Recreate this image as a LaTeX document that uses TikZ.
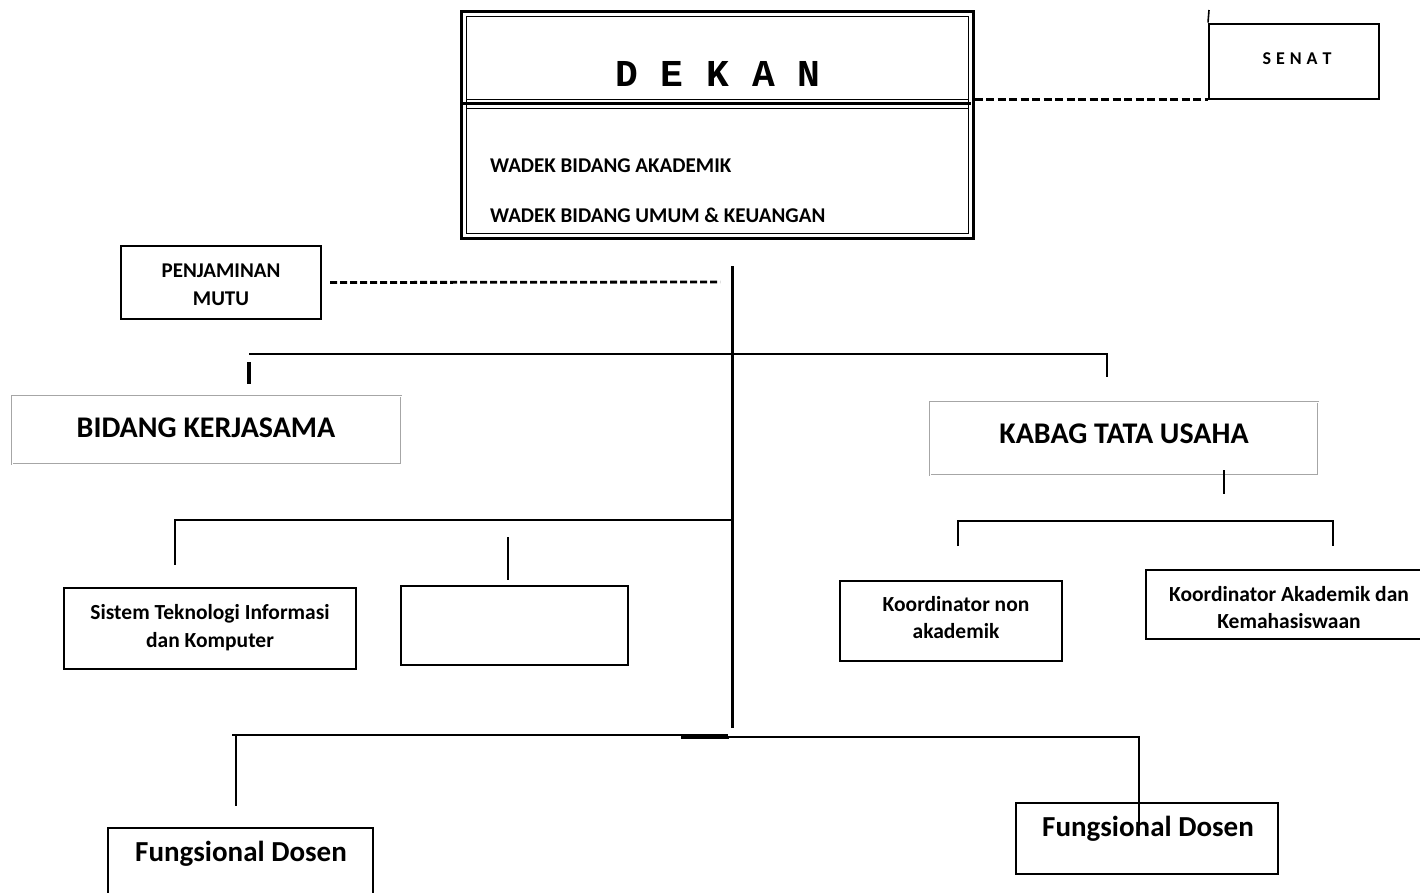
\documentclass[tikz,border=0pt]{standalone}
\usepackage{fontspec}
\setmainfont{Carlito}
\newfontfamily\monofont{Liberation Mono}
\begin{document}
\begin{tikzpicture}[x=1pt,y=-1pt,
  box/.style={draw=black,line width=2pt,inner sep=0pt,align=center,font=\bfseries},
  gbox/.style={draw=gray!70,line width=2.6pt,line join=miter,outer sep=0pt,inner sep=0pt,align=center,font=\bfseries},
  conn/.style={line width=1.6pt},
  thinconn/.style={line width=1.1pt},
  dashline/.style={line width=2.5pt,dash pattern=on 8pt off 3.5pt}]
\useasboundingbox (0,0) rectangle (1420,892);
\begin{scope}
\clip (0,0) rectangle (1420,892);
% DEKAN box
\node[draw=black,line width=3pt,minimum width=512pt,minimum height=227pt,inner sep=0pt] (dekan) at (717,124.5) {};
\draw[line width=1pt] (466,16) rectangle (968,233);
\draw[line width=1pt] (466,99) -- (968,99);
\draw[line width=3.5pt] (463,103.5) -- (971,103.5);
\draw[line width=1pt] (466,108) -- (968,108);
\node[font=\monofont\bfseries\fontsize{38}{38}\selectfont,inner sep=0pt] (dekantxt) at (718,74) {D E K A N};
\node[font=\bfseries\fontsize{21}{22}\selectfont,anchor=west,inner sep=0pt] (wa) at (490,166) {WADEK BIDANG AKADEMIK};
\node[font=\bfseries\fontsize{21}{22}\selectfont,anchor=west,inner sep=0pt] (wu) at (490,215) {WADEK BIDANG UMUM \& KEUANGAN};
% SENAT
\node[box,minimum width=170pt,minimum height=75pt] (senat) at (1294,61) {};
\node[font=\bfseries\fontsize{18}{18}\selectfont,inner sep=0pt] (senattxt) at (1297,59) {S\hspace{5pt}E\hspace{5pt}N\hspace{5pt}A\hspace{5pt}T};
\coordinate (senattop) at (1209,10);
\draw[conn] (senattop) -- (senat.north west);
\draw[dashline] (dekan.east |- senat.south west) -- (senat.south west);
% Penjaminan
\node[box,minimum width=200pt,minimum height=73pt] (pm) at (221,282.5) {};
\node[font=\bfseries\fontsize{21}{28}\selectfont,align=center,inner sep=0pt] (pmtxt) at (221,285) {PENJAMINAN\\MUTU};
\coordinate (vtop) at (732,266);
\coordinate (vbot) at (732,728);
\coordinate (dashend) at (720,282);
\draw[dashline,line width=2.8pt,dash pattern=on 7pt off 3pt] ([xshift=8pt]pm.east) -- (dashend);
\draw[line width=3pt] (vtop) -- (vbot);
% upper branch
\coordinate (h1l) at (249,354);
\coordinate (h1r) at (1107,354);
\draw[conn] (h1l) -- (h1r) -- (1107,377);
\draw[line width=3.5pt] (249,362) -- (249,384);
\node[gbox,minimum width=389pt,minimum height=68pt] (bk) at (206.5,430) {};
\draw[white,line width=0.7pt] (bk.south west) rectangle (bk.north east);
\node[font=\bfseries\fontsize{30}{30}\selectfont,inner sep=0pt] (bktxt) at (206,428) {BIDANG KERJASAMA};
\node[gbox,minimum width=388pt,minimum height=73pt] (kabag) at (1124,438.5) {};
\draw[white,line width=0.7pt] (kabag.south west) rectangle (kabag.north east);
\node[font=\bfseries\fontsize{30}{30}\selectfont,inner sep=0pt] (kabagtxt) at (1124,434) {KABAG TATA USAHA};
% kabag children
\draw[conn] (1224,470) -- (1224,494);
\draw[line width=2.2pt] (958,546) -- (958,521) -- (1333,521) -- (1333,546);
\node[box,minimum width=222pt,minimum height=80pt] (kna) at (951,621) {};
\node[font=\bfseries\fontsize{21.5}{27.5}\selectfont,align=center,inner sep=0pt] (knatxt) at (956,617.5) {Koordinator non\\akademik};
\node[box,anchor=west,minimum width=290pt,minimum height=69pt] (kak) at (1145,604.5) {};
\node[font=\bfseries\fontsize{21.5}{27.5}\selectfont,align=center,inner sep=0pt] (kaktxt) at (1289,607.5) {Koordinator Akademik dan\\Kemahasiswaan};
% left branch
\draw[line width=2.2pt] (vtop |- 0,520) -- (175,520) -- (175,565);
\draw[line width=1.4pt] (508,537) -- (508,580);
\node[box,minimum width=292pt,minimum height=81pt] (sti) at (210,628.5) {};
\node[font=\bfseries\fontsize{21.5}{28}\selectfont,align=center,inner sep=0pt] (stitxt) at (210,628) {Sistem Teknologi Informasi\\dan Komputer};
\node[box,minimum width=227pt,minimum height=79pt] (empty) at (514.5,625.5) {};
% bottom branch
\draw[thinconn] (232,735) -- (728,735);
\draw[line width=2pt] (681,737.5) -- (729,737.5);
\draw[thinconn] (681,737) -- (1139,737) -- (1139,830);
\draw[thinconn] (236,735) -- (236,806);
\node[box,anchor=north,minimum width=265pt,minimum height=80pt] (fd1) at (240.5,827) {};
\node[font=\bfseries\fontsize{29}{30}\selectfont,inner sep=0pt] (fd1t) at (241,854) {Fungsional Dosen};
\node[box,minimum width=262pt,minimum height=71pt] (fd2) at (1147,838.5) {};
\node[font=\bfseries\fontsize{29}{30}\selectfont,inner sep=0pt] (fd2t) at (1148,829) {Fungsional Dosen};
\end{scope}
\end{tikzpicture}
\end{document}
